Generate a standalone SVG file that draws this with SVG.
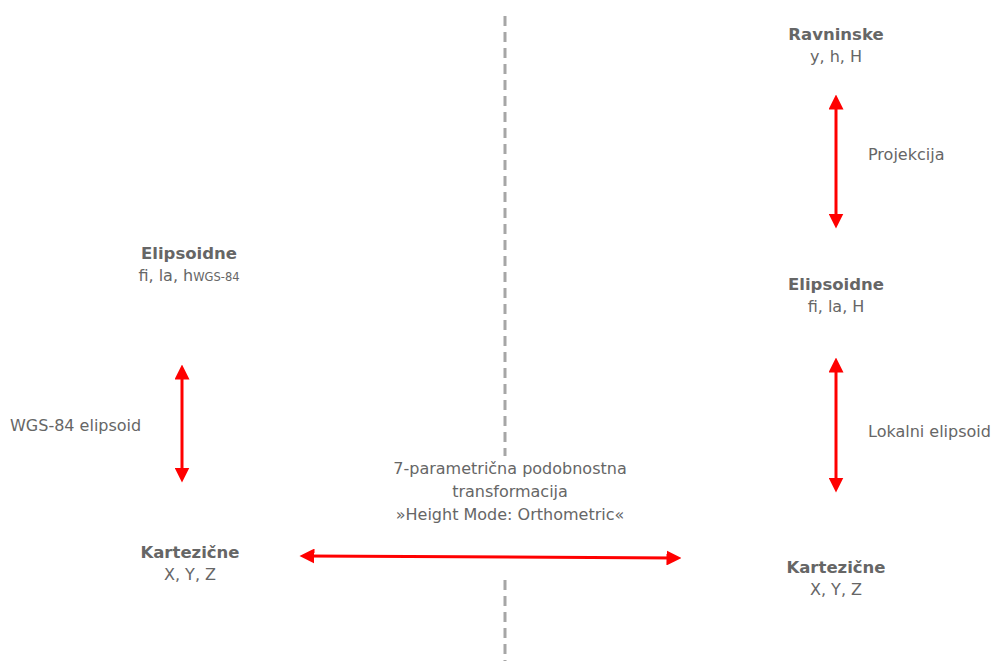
<svg xmlns="http://www.w3.org/2000/svg" width="993" height="661" viewBox="0 0 993 661">
<defs>
<style>
text{font-family:"DejaVu Sans","Liberation Sans",sans-serif;font-size:16px;fill:#666666}
.b{font-weight:bold;font-size:16.5px}
.c{text-anchor:middle}
.arr{stroke:#ff0000;stroke-width:3;fill:none;marker-start:url(#ah);marker-end:url(#ah)}
.dash{stroke:#a6a6a6;stroke-width:3;stroke-dasharray:10 6;fill:none}
</style>
<marker id="ah" viewBox="0 0 10 10" refX="5" refY="5" markerWidth="5" markerHeight="5" orient="auto-start-reverse" markerUnits="strokeWidth">
<path d="M0,0 L10,5 L0,10 z" fill="#ff0000"/>
</marker>
</defs>
<rect width="993" height="661" fill="#ffffff"/>
<g id="divider">
<line class="dash" x1="505" y1="16" x2="505" y2="456"/>
<line class="dash" x1="505" y1="580" x2="505" y2="661"/>
</g>
<g id="connectors">
<line class="arr" x1="182" y1="372" x2="182" y2="475"/>
<line class="arr" x1="307" y1="556" x2="674" y2="558"/>
<line class="arr" x1="836" y1="102" x2="836" y2="221"/>
<line class="arr" x1="836" y1="365" x2="836" y2="485"/>
</g>
<g id="left-elipsoidne">
<text class="b c" x="189" y="259">Elipsoidne</text>
<text class="c" x="189" y="281">fi, la, h<tspan font-size="11.5">WGS-84</tspan></text>
</g>
<g id="left-kartezicne">
<text class="b c" x="190" y="558">Kartezične</text>
<text class="c" x="190" y="580">X, Y, Z</text>
</g>
<g id="right-ravninske">
<text class="b c" x="836" y="40">Ravninske</text>
<text class="c" x="836" y="62">y, h, H</text>
</g>
<g id="right-elipsoidne">
<text class="b c" x="836" y="290">Elipsoidne</text>
<text class="c" x="836" y="312">fi, la, H</text>
</g>
<g id="right-kartezicne">
<text class="b c" x="836" y="573">Kartezične</text>
<text class="c" x="836" y="595">X, Y, Z</text>
</g>
<g id="labels">
<text x="10" y="431">WGS-84 elipsoid</text>
<text x="868" y="160">Projekcija</text>
<text x="868" y="437">Lokalni elipsoid</text>
<text class="c" x="510" y="474">7-parametrična podobnostna</text>
<text class="c" x="510" y="497">transformacija</text>
<text class="c" x="510" y="520">»Height Mode: Orthometric«</text>
</g>
</svg>
